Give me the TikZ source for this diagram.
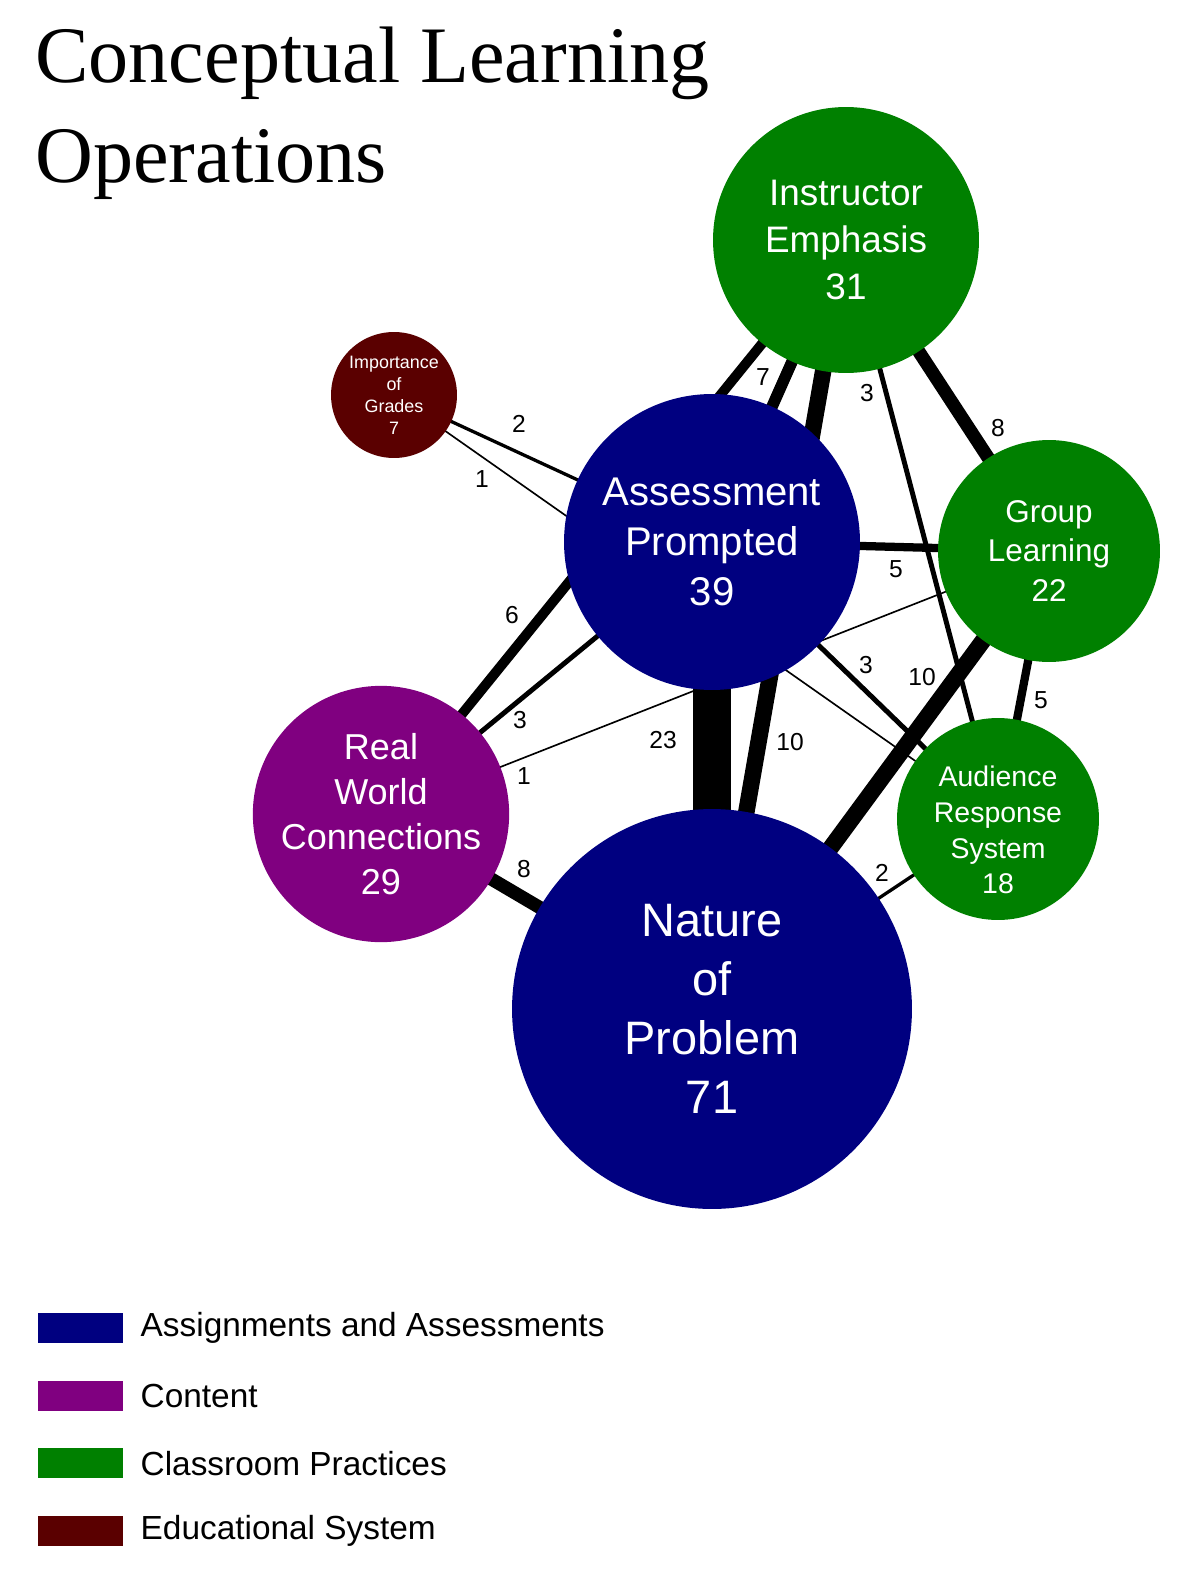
\documentclass[tikz,border=0pt]{standalone}
\usepackage{fontspec}
\setmainfont{Liberation Sans}
\newfontfamily\titlefont{Liberation Serif}
\usepackage{tikz}
\usetikzlibrary{positioning,backgrounds,calc}
\definecolor{assess}{RGB}{0,0,128}
\definecolor{content}{RGB}{128,0,128}
\definecolor{practice}{RGB}{0,128,0}
\definecolor{edusys}{RGB}{90,0,0}
\def\WtUnit{0.94pt}
\newcommand{\fsz}[2]{\fontsize{#1}{#2}\selectfont}
\tikzset{
  topic/.style={circle,inner sep=0pt,text=white,align=center},
  wt/.style={line width=#1*\WtUnit},
  cnt/.style={font=\fsz{14}{16},inner sep=0pt},
  keybox/.style={minimum width=1.7cm,minimum height=0.6cm,inner sep=0pt},
  keytext/.style={font=\fsz{19}{22},inner sep=0pt}
}

\begin{document}
\begin{tikzpicture}[x=0.02cm,y=-0.02cm]
\useasboundingbox (0,0) rectangle (1200,1571);

\node[anchor=base west,inner sep=0pt,font=\titlefont\fsz{45.6}{57}] (title1) at (35,83) {Conceptual Learning};
\node[anchor=base west,inner sep=0pt,font=\titlefont\fsz{45.6}{57}] (title2) at ($(title1.base west)+(0,100)$) {Operations};

% topics
\node[topic,fill=practice,minimum size=5.32cm,font=\fsz{21}{26.7}] (ie) at (846,240) {Instructor\\Emphasis\\31};
\node[topic,fill=assess,minimum size=5.92cm,font=\fsz{22.8}{28.5}] (ap) at (712,542) {Assessment\\Prompted\\39};
\node[topic,fill=practice,minimum size=4.44cm,font=\fsz{17.9}{22.6}] (gl) at (1049,551) {Group\\Learning\\22};
\node[topic,fill=practice,minimum size=4.04cm,
  label={[align=center,text=white,font=\fsz{16.2}{20.3},yshift=-0.22cm]center:Audience\\Response\\System\\18}] (ars) at (998,819) {};
\node[topic,fill=content,minimum size=5.12cm,font=\fsz{20.5}{25.6}] (rwc) at (381,814) {Real\\World\\Connections\\29};
\node[topic,fill=assess,minimum size=8cm,font=\fsz{26.7}{33.6}] (nop) at (712,1009) {Nature\\of\\Problem\\71};
\node[topic,fill=edusys,minimum size=2.52cm,font=\fsz{10.2}{12.5}] (iog) at (394,395) {Importance\\of\\Grades\\7};

% links
\begin{scope}[on background layer]
\fill[white] (0,0) rectangle (1200,1571);
\draw[wt=7] (ie.center) -- (ap.center);
\draw[wt=6] (ie.center) -- (rwc.center);
\draw[wt=10] (ie.center) -- (nop.center);
\draw[wt=3] (ie.center) -- (ars.center);
\draw[wt=8] (ie.center) -- (gl.center);
\draw[wt=2] (iog.center) -- (ap.center);
\draw[wt=1] (iog.center) -- (ars.center);
\draw[wt=5] (ap.center) -- (gl.center);
\draw[wt=3] (ap.center) -- (ars.center);
\draw[wt=3] (ap.center) -- (rwc.center);
\draw[wt=23] (ap.center) -- (nop.center);
\draw[wt=1] (rwc.center) -- (gl.center);
\draw[wt=8] (rwc.center) -- (nop.center);
\draw[wt=10] (gl.center) -- (nop.center);
\draw[wt=5] (gl.center) -- (ars.center);
\draw[wt=2] (nop.center) -- (ars.center);
\end{scope}

\node[cnt] (c-ie-ap) at (763,377) {7};
\node[cnt] (c-ie-ars) at (867,393) {3};
\node[cnt] (c-ie-gl) at (998,428) {8};
\node[cnt] (c-iog-ap) at (519,424) {2};
\node[cnt] (c-iog-ars) at (482,479) {1};
\node[cnt] (c-ie-rwc) at (512,615) {6};
\node[cnt] (c-ap-gl) at (896,569) {5};
\node[cnt] (c-ap-ars) at (866,665) {3};
\node[cnt] (c-gl-nop) at (922,677) {10};
\node[cnt] (c-gl-ars) at (1041,700) {5};
\node[cnt] (c-ap-rwc) at (520,720) {3};
\node[cnt] (c-rwc-gl) at (524,776) {1};
\node[cnt] (c-ap-nop) at (663,740) {23};
\node[cnt] (c-ie-nop) at (790,742) {10};
\node[cnt] (c-rwc-nop) at (524,869) {8};
\node[cnt] (c-nop-ars) at (882,873) {2};

% key
\foreach \c/\t [count=\i] in {assess/Assignments and Assessments,content/Content,practice/Classroom Practices,edusys/Educational System}{
  \node[keybox,fill=\c] (key\i) at (80.5,{1328+67.7*(\i-1)}) {};
  \node[keytext,right=0.34cm of key\i] (keytxt\i) {\t};
}
\end{tikzpicture}
\end{document}
